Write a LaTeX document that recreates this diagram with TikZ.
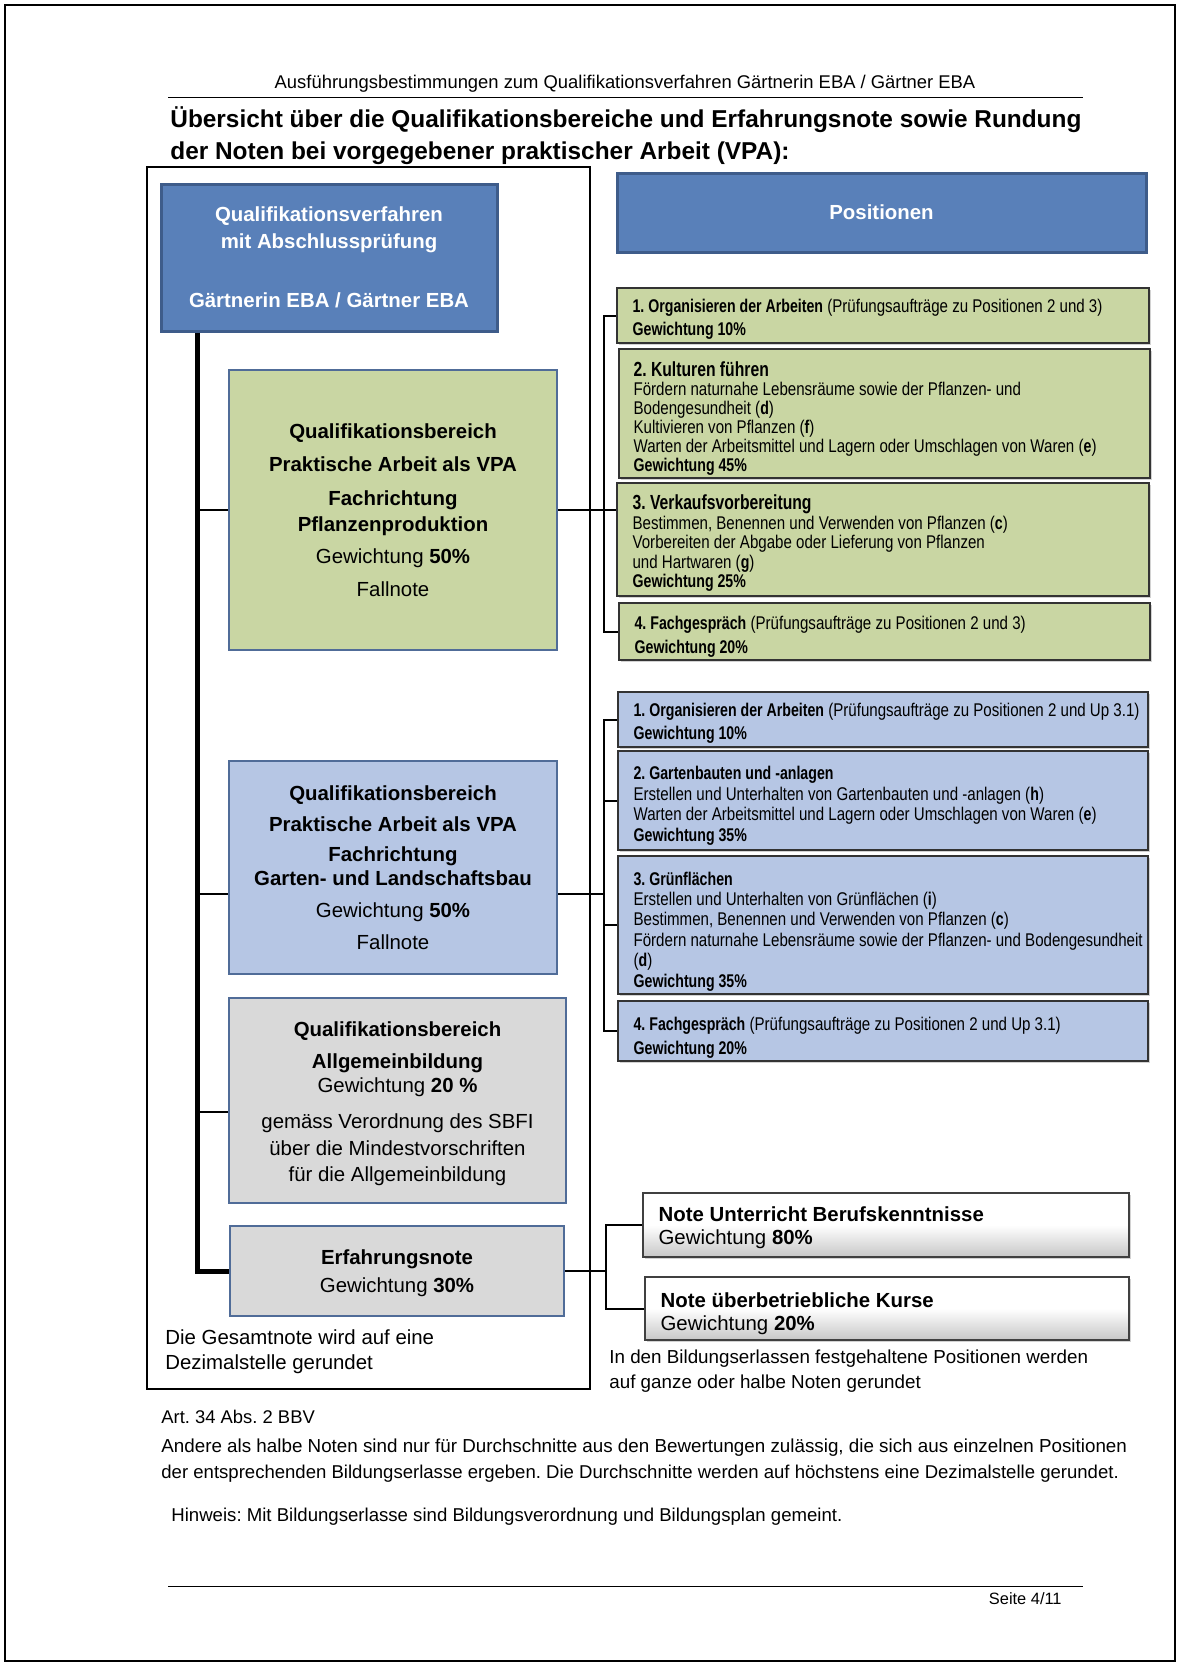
\documentclass[tikz,border=0pt]{standalone}
\usepackage{fontspec}
\setmainfont{Liberation Sans}
\newfontfamily\narrowfont[FakeStretch=0.82,BoldFeatures={FakeStretch=0.77}]{Liberation Sans}
\usetikzlibrary{fit,shadows}
\definecolor{dkblue}{RGB}{89,128,185}
\definecolor{dkblueborder}{RGB}{62,92,138}
\definecolor{qbborder}{RGB}{80,108,152}
\definecolor{greenfill}{RGB}{201,214,163}
\definecolor{lbluefill}{RGB}{182,198,228}
\definecolor{greyfill}{RGB}{217,217,217}
\tikzset{
  hdrbox/.style={draw=dkblueborder, line width=1.5pt, fill=dkblue, inner sep=0pt},
  hdrtext/.style={inner sep=0pt, text=white, align=center, font=\fontsize{10.2}{13.3}\selectfont\bfseries},
  qbbox/.style={draw=qbborder, line width=1.3pt, inner sep=0pt},
  qbtext/.style={inner sep=0pt, align=center},
  posbox/.style={draw=black!80, line width=0.8pt, inner sep=0pt,
    drop shadow={shadow xshift=1pt, shadow yshift=-1pt, opacity=0.35}},
  postext/.style={anchor=west, align=left, inner sep=0pt,
    font=\narrowfont\fontsize{9.2}{9.6}\selectfont},
  notebox/.style={draw=black!75, line width=0.8pt, inner sep=0pt,
    top color=white, bottom color=black!22, middle color=white,
    drop shadow={shadow xshift=1pt, shadow yshift=-1pt, opacity=0.35}},
  notetext/.style={anchor=west, align=left, inner sep=0pt,
    font=\fontsize{10.2}{11.5}\selectfont},
  plaintext/.style={anchor=west, inner sep=0pt},
  mainline/.style={line width=2.5pt, black},
  branch/.style={line width=1.3pt, black},
  conn/.style={line width=1pt, black},
  frameline/.style={draw=black, line width=1pt, inner sep=0pt},
}
\begin{document}
\frenchspacing
\begin{tikzpicture}[x=0.5pt,y=-0.5pt]
\useasboundingbox (0,0) rectangle (1180,1666);
\fill[white] (0,0) rectangle (1180,1666);
\node[draw=black, line width=0.6pt, inner sep=0pt, fit={(5,5)(1175,1661)}] (page) {};

% header / footer
\node[font=\fontsize{9.2}{11}\selectfont, inner sep=0pt] (hdr) at (625,84)
  {Ausführungsbestimmungen zum Qualifikationsverfahren Gärtnerin EBA / Gärtner EBA};
\draw[line width=0.5pt] (168,97) -- (1083,97);
\node[plaintext, font=\fontsize{12.2}{14}\selectfont\bfseries] (title1) at (170,120)
  {Übersicht über die Qualifikationsbereiche und Erfahrungsnote sowie Rundung};
\node[plaintext, font=\fontsize{12.2}{14}\selectfont\bfseries] (title2) at (170,153)
  {der Noten bei vorgegebener praktischer Arbeit (VPA):};

% left frame
\node[frameline, fit={(147,167)(590,1389)}] (frame) {};

% top boxes
\node[hdrbox, fit={(161,184)(497,331)}] (tl) {};
\node[hdrtext] (tlt) at (tl.center)
  {Qualifikationsverfahren\\mit Abschlussprüfung\\[16.4pt]Gärtnerin EBA / Gärtner EBA};
\node[hdrbox, fit={(617,173)(1146,252)}] (pos) {};
\node[hdrtext] (post) at (pos.center) {Positionen};

% qualification boxes
\node[qbbox, fill=greenfill, fit={(229,370)(557,650)}] (gqb) {};
\node[qbtext, font=\fontsize{10.2}{13.3}\selectfont] (gqbt) at (gqb.center)
  {\textbf{Qualifikationsbereich}\\[3.2pt]\textbf{Praktische Arbeit als VPA}\\[3.7pt]\textbf{Fachrichtung}\\\textbf{Pflanzenproduktion}\\[2.7pt]Gewichtung \textbf{50\%}\\[3.2pt]Fallnote};
\node[qbbox, fill=lbluefill, fit={(229,761)(557,974)}] (bqb) {};
\node[qbtext, font=\fontsize{10.2}{12.2}\selectfont] (bqbt) at (bqb.center)
  {\textbf{Qualifikationsbereich}\\[3.2pt]\textbf{Praktische Arbeit als VPA}\\[2.7pt]\textbf{Fachrichtung}\\\textbf{Garten- und Landschaftsbau}\\[3.7pt]Gewichtung \textbf{50\%}\\[3.7pt]Fallnote};
\node[qbbox, fill=greyfill, fit={(229,998)(566,1203)}] (gr) {};
\node[qbtext, font=\fontsize{10.2}{13.3}\selectfont] (grt) at ([yshift=-1.6pt]gr.center)
  {\textbf{Qualifikationsbereich}\\[2.7pt]\textbf{Allgemeinbildung}\\[-1.1pt]Gewichtung \textbf{20 \%}\\[4.7pt]gemäss Verordnung des SBFI\\über die Mindestvorschriften\\für die Allgemeinbildung};
\node[qbbox, fill=greyfill, fit={(230,1226)(564,1316)}] (erf) {};
\node[qbtext, font=\fontsize{10.2}{13.8}\selectfont] (erft) at ([yshift=-1pt]erf.center)
  {\textbf{Erfahrungsnote}\\Gewichtung \textbf{30\%}};

% green positions
\node[posbox, fill=greenfill, fit={(617,288)(1149,343)}] (g1) {};
\node[postext] (g1t) at ([xshift=8pt,yshift=-1.9pt]g1.west)
  {\textbf{1. Organisieren der Arbeiten} (Prüfungsaufträge zu Positionen 2 und 3)\\[2pt]\textbf{Gewichtung 10\%}};
\node[posbox, fill=greenfill, fit={(619,349)(1150,478)}] (g2) {};
\node[postext, font=\narrowfont\fontsize{9.2}{9.5}\selectfont] (g2t) at ([xshift=7.5pt,yshift=-2.5pt]g2.west)
  {{\fontsize{10.2}{10}\selectfont\textbf{2. Kulturen führen}}\\Fördern naturnahe Lebensräume sowie der Pflanzen- und\\Bodengesundheit (\textbf{d})\\Kultivieren von Pflanzen (\textbf{f})\\Warten der Arbeitsmittel und Lagern oder Umschlagen von Waren (\textbf{e})\\\textbf{Gewichtung 45\%}};
\node[posbox, fill=greenfill, fit={(617,483)(1149,596)}] (g3) {};
\node[postext, font=\narrowfont\fontsize{9.2}{9.8}\selectfont] (g3t) at ([xshift=8pt,yshift=-1.9pt]g3.west)
  {{\fontsize{10.2}{10}\selectfont\textbf{3. Verkaufsvorbereitung}}\\Bestimmen, Benennen und Verwenden von Pflanzen (\textbf{c})\\Vorbereiten der Abgabe oder Lieferung von Pflanzen\\und Hartwaren (\textbf{g})\\\textbf{Gewichtung 25\%}};
\node[posbox, fill=greenfill, fit={(619,603)(1150,660)}] (g4) {};
\node[postext] (g4t) at ([xshift=8pt,yshift=-2.6pt]g4.west)
  {\textbf{4. Fachgespräch} (Prüfungsaufträge zu Positionen 2 und 3)\\[2pt]\textbf{Gewichtung 20\%}};

% blue positions
\node[posbox, fill=lbluefill, fit={(618,692)(1148,747)}] (b1) {};
\node[postext] (b1t) at ([xshift=8pt,yshift=-1.9pt]b1.west)
  {\textbf{1. Organisieren der Arbeiten} (Prüfungsaufträge zu Positionen 2 und Up 3.1)\\[2pt]\textbf{Gewichtung 10\%}};
\node[posbox, fill=lbluefill, fit={(618,751)(1148,850)}] (b2) {};
\node[postext, font=\narrowfont\fontsize{9.2}{10.4}\selectfont] (b2t) at ([xshift=8pt,yshift=-2.6pt]b2.west)
  {\textbf{2. Gartenbauten und -anlagen}\\Erstellen und Unterhalten von Gartenbauten und -anlagen (\textbf{h})\\Warten der Arbeitsmittel und Lagern oder Umschlagen von Waren (\textbf{e})\\\textbf{Gewichtung 35\%}};
\node[posbox, fill=lbluefill, fit={(618,856)(1148,994)}] (b3) {};
\node[postext, font=\narrowfont\fontsize{9.2}{10.2}\selectfont] (b3t) at ([xshift=8pt,yshift=-3.2pt]b3.west)
  {\textbf{3. Grünflächen}\\Erstellen und Unterhalten von Grünflächen (\textbf{i})\\Bestimmen, Benennen und Verwenden von Pflanzen (\textbf{c})\\Fördern naturnahe Lebensräume sowie der Pflanzen- und Bodengesundheit\\(\textbf{d})\\\textbf{Gewichtung 35\%}};
\node[posbox, fill=lbluefill, fit={(618,1001)(1148,1061)}] (b4) {};
\node[postext] (b4t) at ([xshift=8pt,yshift=-3.4pt]b4.west)
  {\textbf{4. Fachgespräch} (Prüfungsaufträge zu Positionen 2 und Up 3.1)\\[2pt]\textbf{Gewichtung 20\%}};

% note boxes
\node[notebox, fit={(643,1193)(1129,1257)}] (w1) {};
\node[notetext] (w1t) at ([xshift=8pt,yshift=-1.6pt]w1.west)
  {\textbf{Note Unterricht Berufskenntnisse}\\Gewichtung \textbf{80\%}};
\node[notebox, fit={(645,1277)(1129,1340)}] (w2) {};
\node[notetext] (w2t) at ([xshift=8pt,yshift=-2.4pt]w2.west)
  {\textbf{Note überbetriebliche Kurse}\\Gewichtung \textbf{20\%}};

% connectors left
\coordinate (mx) at (197,0);
\coordinate (bqbL) at ([yshift=-13.25pt]bqb.west);
\coordinate (bqbR) at ([yshift=-13.25pt]bqb.east);
\coordinate (grL) at ([yshift=-5.75pt]gr.west);
\draw[mainline] (tl.south -| mx) |- (erf.west);
\draw[branch] (gqb.west) -- (gqb.west -| mx);
\draw[branch] (bqbL) -- (bqbL -| mx);
\draw[branch] (grL) -- (grL -| mx);

% connectors right
\coordinate (rx) at (604,0);
\draw[conn] (gqb.east) -- (gqb.east -| g3.west);
\draw[conn] (g1.west) -| (rx |- g4.west) -- (g4.west);
\draw[conn] (bqbR) -- (bqbR -| rx);
\draw[conn] (b1.west) -| (rx |- b4.west) -- (b4.west);
\draw[conn] (b2.west) -- (b2.west -| rx);
\draw[conn] (b3.west) -- (b3.west -| rx);
\coordinate (wx) at (606,0);
\draw[conn] (erf.east) -- (erf.east -| wx);
\draw[conn] (w1.west) -| (wx |- w2.west) -- (w2.west);

% free texts
\node[plaintext, font=\fontsize{10.2}{12}\selectfont] (ges1) at (165,1337) {Die Gesamtnote wird auf eine};
\node[plaintext, font=\fontsize{10.2}{12}\selectfont] (ges2) at (165,1364) {Dezimalstelle gerundet};
\node[plaintext, font=\fontsize{9.4}{12}\selectfont] (bil1) at (609,1359) {In den Bildungserlassen festgehaltene Positionen werden};
\node[plaintext, font=\fontsize{9.4}{12}\selectfont] (bil2) at (609,1384) {auf ganze oder halbe Noten gerundet};
\node[plaintext, font=\fontsize{9.2}{12}\selectfont] (art) at (161,1417) {Art. 34 Abs. 2 BBV};
\node[plaintext, font=\fontsize{9.4}{12}\selectfont] (and1) at (161,1448) {Andere als halbe Noten sind nur für Durchschnitte aus den Bewertungen zulässig, die sich aus einzelnen Positionen};
\node[plaintext, font=\fontsize{9.28}{12}\selectfont] (and2) at (161,1474) {der entsprechenden Bildungserlasse ergeben. Die Durchschnitte werden auf höchstens eine Dezimalstelle gerundet.};
\node[plaintext, font=\fontsize{9.3}{12}\selectfont] (hin) at (171,1517) {Hinweis: Mit Bildungserlasse sind Bildungsverordnung und Bildungsplan gemeint.};
\draw[line width=0.5pt] (168,1586) -- (1083,1586);
\node[anchor=east, inner sep=0pt, font=\fontsize{8.2}{10}\selectfont] (seite) at (1062,1599) {Seite 4/11};
\end{tikzpicture}
\end{document}
